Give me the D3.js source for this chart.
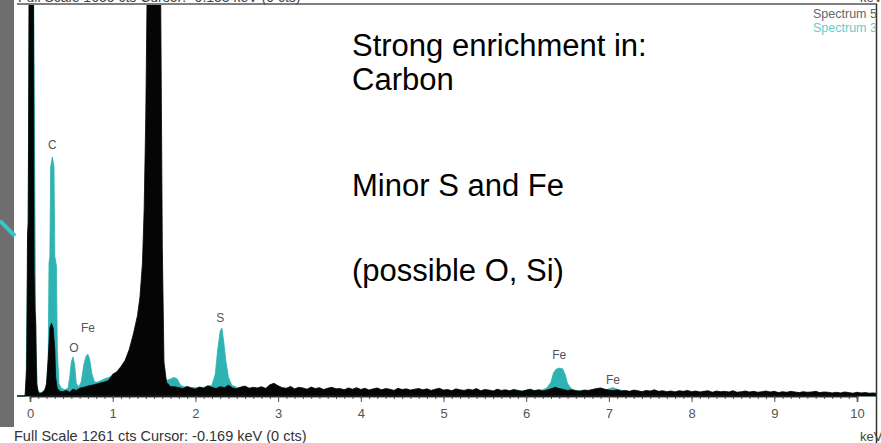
<!DOCTYPE html>
<html>
<head>
<meta charset="utf-8">
<script src="https://cdn.jsdelivr.net/npm/d3@7"></script>
<style>
  body { margin: 0; background: #fff; }
  svg { display: block; font-family: Arial, "Liberation Sans", sans-serif; }
</style>
</head>
<body>
<svg id="chart" width="881" height="443"></svg>
<script>
// spectrum 5 (black), [keV, counts] near the low-energy peaks
const blackPeaks = [
  [-0.16, 0], [-0.06, 0], [-0.04, 90], [-0.03, 520], [-0.02, 560], [-0.01, 2600],
  [0.0, 3000], [0.02, 3000], [0.04, 2600], [0.05, 400], [0.06, 280], [0.07, 230],
  [0.08, 40], [0.10, 12], [0.12, 8], [0.14, 10], [0.16, 14], [0.18, 20], [0.20, 40],
  [0.22, 120], [0.23, 170], [0.24, 220], [0.26, 235], [0.28, 220], [0.30, 150],
  [0.31, 60], [0.33, 25], [0.36, 15], [0.40, 14], [0.44, 18], [0.48, 12], [0.52, 22],
  [0.56, 18], [0.60, 25], [0.65, 28], [0.70, 32], [0.75, 35], [0.80, 38], [0.85, 42],
  [0.90, 45], [0.95, 50], [1.00, 70], [1.05, 78], [1.10, 95], [1.15, 115], [1.20, 150],
  [1.25, 200], [1.30, 260], [1.33, 320], [1.36, 430], [1.38, 600], [1.40, 900],
  [1.42, 1400], [1.44, 3000], [1.56, 3000], [1.58, 1300], [1.60, 480], [1.62, 110],
  [1.65, 45], [1.70, 30]
];
// spectrum 5 background, one value per 0.05 keV channel from 1.75 keV
const tailStart = 1.75;
const tailStep = 0.05;
const blackTail = [
  30, 27, 24, 31, 26, 22, 29, 25, 33, 28, 24, 30, 27, 35, 26, 23, 29, 32, 25, 28,
  26, 30, 24, 36, 41, 33, 27, 25, 31, 23, 28, 26, 22, 29, 24, 27, 21, 25, 28, 23,
  24, 20, 26, 22, 27, 21, 25, 19, 23, 26, 20, 24, 22, 18, 25, 21, 23, 19, 22, 24,
  20, 23, 18, 22, 25, 19, 21, 17, 23, 20, 18, 22, 19, 24, 17, 21, 19, 16, 22, 18,
  20, 17, 21, 18, 15, 19, 22, 17, 20, 16, 19, 23, 28, 24, 21, 18, 20, 17, 15, 19,
  18, 21, 24, 26, 22, 19, 17, 20, 16, 18, 15, 19, 17, 14, 18, 16, 20, 15, 17, 14,
  16, 13, 17, 15, 18, 14, 16, 13, 15, 17, 12, 16, 14, 15, 13, 17, 12, 14, 16, 13,
  15, 12, 14, 16, 13, 15, 11, 14, 12, 15, 13, 11, 14, 12, 13, 15, 11, 13, 12, 10,
  12, 10, 13, 11, 9, 12, 10, 11, 9, 10, 8
];
// spectrum 3 (cyan), [keV, counts]
const cyanSpectrum = [
  [-0.16, 0], [-0.05, 0], [-0.03, 400], [0.0, 2000], [0.04, 1500], [0.07, 150],
  [0.09, 20], [0.12, 10], [0.16, 14], [0.20, 30], [0.22, 120], [0.23, 430], [0.24, 450],
  [0.25, 740], [0.27, 771], [0.29, 740], [0.30, 450], [0.32, 420], [0.33, 150],
  [0.35, 40], [0.38, 25], [0.42, 20], [0.46, 25], [0.48, 60], [0.50, 110], [0.52, 126],
  [0.54, 100], [0.56, 40], [0.59, 30], [0.62, 45], [0.65, 100], [0.68, 130], [0.70, 135],
  [0.72, 120], [0.75, 70], [0.78, 45], [0.82, 45], [0.86, 50], [0.90, 55], [0.95, 60],
  [1.00, 65], [1.05, 62], [1.10, 70], [1.20, 80], [1.30, 90], [1.40, 150], [1.50, 200],
  [1.60, 90], [1.65, 50], [1.70, 55], [1.74, 60], [1.78, 55], [1.82, 35], [1.86, 30],
  [1.90, 28], [2.00, 27], [2.10, 28], [2.20, 35], [2.24, 70], [2.27, 150], [2.30, 210],
  [2.32, 219], [2.34, 180], [2.37, 110], [2.40, 60], [2.44, 35], [2.50, 28], [2.70, 24],
  [2.90, 26], [3.10, 22], [3.30, 21], [3.50, 20], [3.70, 19], [3.90, 20], [4.10, 18],
  [4.30, 19], [4.50, 17], [4.70, 18], [4.90, 16], [5.10, 17], [5.30, 15], [5.50, 16],
  [5.70, 15], [5.90, 16], [6.10, 18], [6.20, 20], [6.25, 26], [6.30, 45], [6.33, 75],
  [6.36, 86], [6.40, 90], [6.44, 88], [6.47, 70], [6.50, 40], [6.55, 22], [6.60, 18],
  [6.80, 16], [6.95, 18], [7.00, 23], [7.05, 27], [7.10, 22], [7.20, 15], [7.40, 14],
  [7.60, 13], [7.80, 13], [8.00, 12], [8.20, 12], [8.40, 11], [8.60, 11], [8.80, 10],
  [9.00, 10], [9.20, 10], [9.40, 9], [9.60, 9], [9.80, 8], [10.00, 8], [10.30, 8]
];
// peak labels: element, keV, counts at label baseline
const peakNames = ['C', 'O', 'Fe', 'S', 'Fe', 'Fe'];
const peakKeV = [0.27, 0.53, 0.70, 2.30, 6.40, 7.05];
const peakLabelCts = [797, 142, 206, 239, 119, 39];
const majorTicks = [0, 1, 2, 3, 4, 5, 6, 7, 8, 9, 10];
const fullScale = 1261;
const notes = ['Strong enrichment in:', 'Carbon', 'Minor S and Fe', '(possible O, Si)'];
const legendNames = ['Spectrum 5', 'Spectrum 3'];

const blackSpectrum = blackPeaks.concat(blackTail.map((c, i) => [tailStart + i * tailStep, c]));

const svg = d3.select('#chart');
const W = 881, H = 443;
const plot = { left: 17, right: 876, top: 4, base: 396 };

const x = d3.scaleLinear().domain([0, 10]).range([30, 857]);
const y = d3.scaleLinear().domain([0, fullScale]).range([plot.base, 5]);

// gray strip on the left
svg.append('rect').attr('x', 0).attr('y', 0).attr('width', 14).attr('height', 427).attr('fill', '#6e6e6e');
svg.append('line').attr('x1', 0).attr('y1', 221).attr('x2', 15).attr('y2', 236)
  .attr('stroke', '#33c8c8').attr('stroke-width', 4);

// cut-off header line
svg.append('text').attr('x', 18).attr('y', 2).attr('font-size', 14).attr('fill', '#444')
  .text('Full Scale 1655 cts  Cursor: -0.153 keV (0 cts)');
svg.append('text').attr('x', 860).attr('y', 2).attr('font-size', 13).attr('fill', '#444').text('keV');
svg.append('line').attr('x1', plot.left).attr('x2', plot.right + 1).attr('y1', plot.top).attr('y2', plot.top)
  .attr('stroke', '#555').attr('stroke-width', 1.5);

svg.append('clipPath').attr('id', 'clip').append('rect')
  .attr('x', plot.left).attr('y', plot.top + 1).attr('width', plot.right - plot.left).attr('height', plot.base - plot.top);

const area = d3.area()
  .x((d) => x(d[0]))
  .y0(y(0))
  .y1((d) => y(Math.min(d[1], 1500)));

const g = svg.append('g').attr('clip-path', 'url(#clip)');
g.append('path').datum(cyanSpectrum).attr('d', area)
  .attr('fill', '#2fb2b2').attr('stroke', '#2fb2b2').attr('stroke-width', 0.8);
g.append('path').datum(blackSpectrum).attr('d', area)
  .attr('fill', '#050505').attr('stroke', '#050505').attr('stroke-width', 0.8);

// peak labels
peakNames.forEach((name, i) => {
  svg.append('text')
    .attr('x', x(peakKeV[i]))
    .attr('y', y(peakLabelCts[i]))
    .attr('text-anchor', 'middle')
    .attr('font-size', 12)
    .attr('fill', '#555')
    .text(name);
});

// axis
const axisG = svg.append('g').attr('transform', `translate(0,${plot.base})`);
axisG.call(d3.axisBottom(x).tickValues(d3.range(0, 101).map((i) => i / 10)).tickSize(3).tickFormat(''));
axisG.append('g').call(d3.axisBottom(x).tickValues(majorTicks).tickSize(6).tickPadding(7).tickFormat(d3.format('d')));
axisG.selectAll('.domain').attr('stroke', '#222').attr('stroke-width', 1.5);
axisG.selectAll('line').attr('stroke', '#555');
axisG.selectAll('text').attr('font-size', 13).attr('fill', '#555').attr('font-family', 'Arial, "Liberation Sans", sans-serif');

// right frame edge
svg.append('line').attr('x1', plot.right + 0.5).attr('x2', plot.right + 0.5).attr('y1', plot.top).attr('y2', H)
  .attr('stroke', '#333').attr('stroke-width', 1.5);

// legend, cut by the frame
svg.append('clipPath').attr('id', 'legclip').append('rect')
  .attr('x', 0).attr('y', 0).attr('width', plot.right).attr('height', 40);
const legColors = ['#666', '#6cc'];
legendNames.forEach((name, i) => {
  svg.append('text').attr('clip-path', 'url(#legclip)')
    .attr('x', 813).attr('y', 18 + i * 13.5).attr('font-size', 12.5).attr('fill', legColors[i]).text(name);
});

// annotation text
const noteY = [56, 90, 196, 281];
notes.forEach((t, i) => {
  svg.append('text').attr('x', 352).attr('y', noteY[i]).attr('font-size', 31)
    .attr('fill', '#000').text(t);
});

// footer
svg.append('text').attr('x', 14).attr('y', 441).attr('font-size', 14.5).attr('fill', '#333')
  .text('Full Scale 1261 cts  Cursor: -0.169 keV (0 cts)');
svg.append('text').attr('x', 860).attr('y', 441).attr('font-size', 13).attr('fill', '#444').text('keV');
</script>
</body>
</html>
